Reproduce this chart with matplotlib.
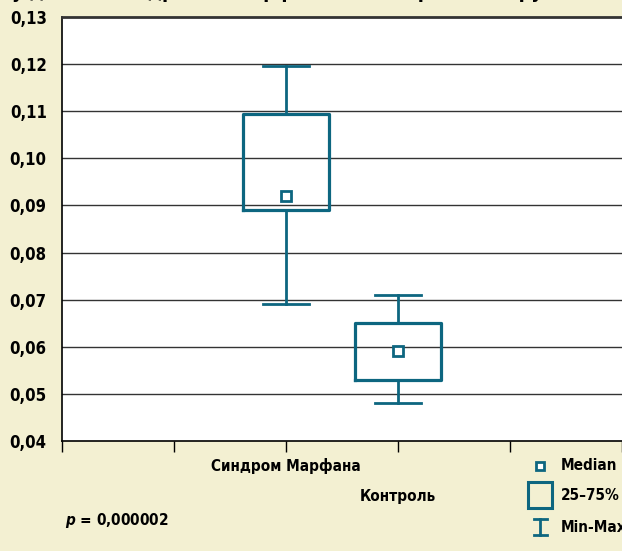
import numpy as np
import matplotlib.pyplot as plt
from matplotlib.lines import Line2D
from matplotlib.patches import Rectangle

# group statistics: min, q25, median, q75, max
groups = ["Синдром Марфана", "Контроль"]
positions = [2, 3]
mins = [0.069, 0.048]
q25 = [0.089, 0.053]
medians = [0.092, 0.059]
q75 = [0.1095, 0.065]
maxs = [0.1195, 0.071]

y_ticks = [0.04, 0.05, 0.06, 0.07, 0.08, 0.09, 0.10, 0.11, 0.12, 0.13]
p_value = "0,000002"
title = "у детей с синдромом Марфана и в контрольной группе"

TEAL = "#0d6680"
BG = "#f3f0d2"

plt.rcParams["font.family"] = ["DejaVu Sans"]
plt.rcParams["font.stretch"] = "condensed"
plt.rcParams["font.weight"] = "bold"

fig = plt.figure(figsize=(6.22, 5.51), dpi=100, facecolor=BG)
ax = fig.add_axes([62 / 622, 1 - 441 / 551, 560 / 622, 424 / 551])
ax.set_facecolor("white")

stats = []
for i in range(len(groups)):
    stats.append({"whislo": mins[i], "q1": q25[i], "med": medians[i],
                  "q3": q75[i], "whishi": maxs[i], "fliers": []})

ax.bxp(stats, positions=positions, widths=0.76, capwidths=0.41,
       showfliers=False, patch_artist=False,
       boxprops=dict(color=TEAL, linewidth=2.3),
       whiskerprops=dict(color=TEAL, linewidth=2),
       capprops=dict(color=TEAL, linewidth=2),
       medianprops=dict(visible=False), zorder=3)
ax.plot(positions, medians, ls="none", marker="s", ms=7, mfc="white",
        mec=TEAL, mew=2, zorder=4)

ax.set_xlim(0, 5)
ax.set_ylim(0.04, 0.13)
ax.set_yticks(y_ticks)
ax.set_yticklabels([f"{v:.2f}".replace(".", ",") for v in y_ticks],
                   fontsize=12, fontweight="bold", fontstretch="condensed")
ax.tick_params(axis="y", length=0, pad=11)
ax.set_xticks(range(6))
ax.set_xticklabels([])
ax.tick_params(axis="x", direction="out", length=8, width=1, color="black")
for y in y_ticks[1:-1]:
    ax.axhline(y, color="#333333", lw=1, zorder=1)

ax.spines["top"].set_linewidth(2)
ax.spines["top"].set_color("#333333")
ax.spines["right"].set_visible(False)
ax.spines["left"].set_linewidth(1.2)
ax.spines["bottom"].set_linewidth(1.2)

# staggered group labels under the axis
label_y = [466, 497]
for pos, name, ly in zip(positions, groups, label_y):
    x_fig = (62 + pos * 112) / 622
    fig.text(x_fig, 1 - ly / 551, name, ha="center", va="center",
             fontsize=11, fontweight="bold", fontstretch="condensed")

fig.text(65 / 622, 1 - 521 / 551, r"$\it{p}$" + f" = {p_value}",
         ha="left", va="center", fontsize=11, fontweight="bold",
         fontstretch="condensed")

# top caption runs off the edge
fig.text(0.02, 1 + 2.5 / 551, title, ha="left", va="baseline",
         fontsize=14, fontweight="bold", fontstretch="condensed")

# legend
lx = 540 / 622
fig.add_artist(Line2D([lx], [1 - 466 / 551], marker="s", ms=6, mfc="white",
                      mec=TEAL, mew=2, transform=fig.transFigure))
fig.add_artist(Rectangle((528 / 622, 1 - 508 / 551), 24 / 622, 26 / 551,
                         transform=fig.transFigure, fill=False,
                         ec=TEAL, lw=2.2))
for yy in (519, 535):
    fig.add_artist(Line2D([534 / 622, 547 / 622], [1 - yy / 551] * 2,
                          color=TEAL, lw=2, transform=fig.transFigure))
fig.add_artist(Line2D([lx, lx], [1 - 519 / 551, 1 - 535 / 551],
                      color=TEAL, lw=2, transform=fig.transFigure))
for text, ty in zip(["Median", "25–75%", "Min-Max"], [466, 496, 527]):
    fig.text(561 / 622, 1 - ty / 551, text, ha="left", va="center",
             fontsize=11, fontweight="bold", fontstretch="condensed")

fig.savefig("out.png", dpi=100, facecolor=BG)
